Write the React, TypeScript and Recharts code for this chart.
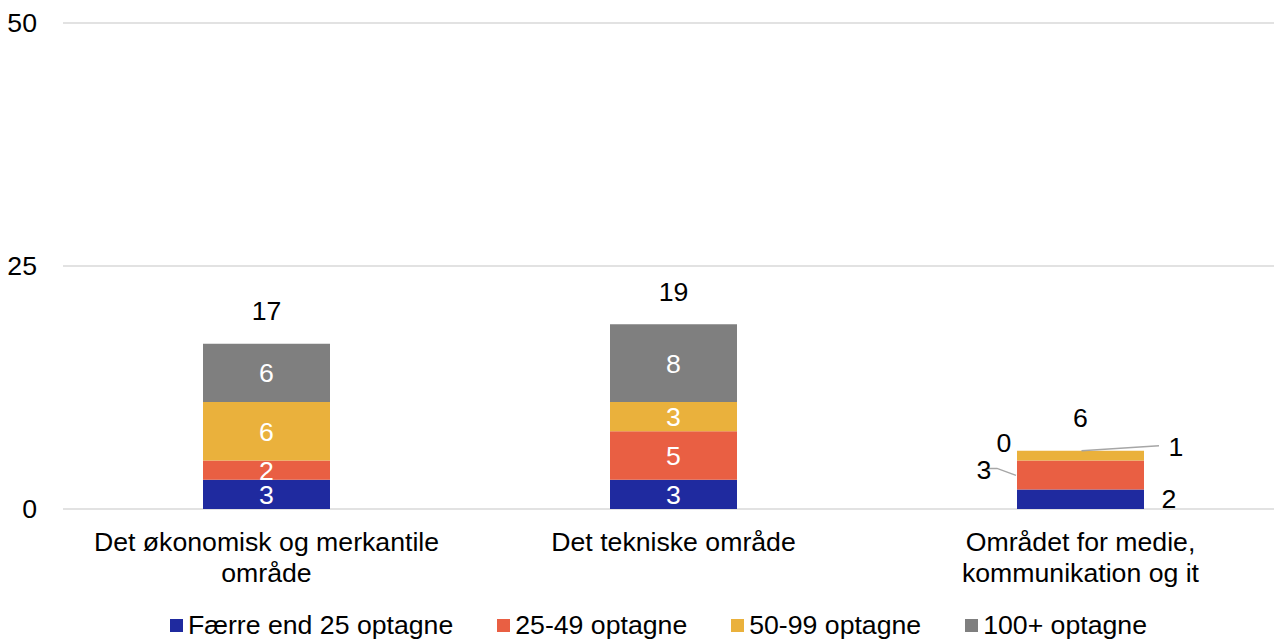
import React from 'react';
import { BarChart, Bar, XAxis, YAxis, CartesianGrid, Legend, LabelList } from 'recharts';

const categories = [
  'Det økonomisk og merkantile område',
  'Det tekniske område',
  'Området for medie, kommunikation og it',
];
const categoryLines = [
  ['Det økonomisk og merkantile', 'område'],
  ['Det tekniske område'],
  ['Området for medie,', 'kommunikation og it'],
];
const faerre25 = [3, 3, 2];
const opt25to49 = [2, 5, 3];
const opt50to99 = [6, 3, 1];
const opt100 = [6, 8, 0];
const yTicks = [0, 25, 50];

const seriesDefs = [
  { key: 'a', name: 'Færre end 25 optagne', color: '#1f2a9f', values: faerre25 },
  { key: 'b', name: '25-49 optagne', color: '#e95f43', values: opt25to49 },
  { key: 'c', name: '50-99 optagne', color: '#eab13c', values: opt50to99 },
  { key: 'd', name: '100+ optagne', color: '#7f7f7f', values: opt100 },
];

const data = categories.map((c, i) => ({
  name: c,
  a: faerre25[i],
  b: opt25to49[i],
  c: opt50to99[i],
  d: opt100[i],
}));

const FONT = '"Liberation Sans", Arial, sans-serif';
const FS = 26.67;

const XTick = (props: any) => {
  const { x, y, payload } = props;
  const lines = categoryLines[payload.index] || [payload.value];
  return (
    <text x={x} y={y} textAnchor="middle" fontSize={FS} fill="#000" fontFamily={FONT}>
      {lines.map((l, i) => (
        <tspan key={i} x={x} dy={i === 0 ? 34 : 31}>{l}</tspan>
      ))}
    </text>
  );
};

// index of the topmost non-zero segment for each category
const topSeries = (i: number) => {
  let top = 0;
  seriesDefs.forEach((s, si) => { if (s.values[i] > 0) top = si; });
  return top;
};

const Txt = ({ x, y, fill = '#000', children }: any) => (
  <text x={x} y={y} dy={9.5} textAnchor="middle" fontSize={FS} fill={fill} fontFamily={FONT}>
    {children}
  </text>
);

// labels for the small stacked bar, placed outside with leaders
const makeSegLabel = (seriesIdx: number) => (props: any) => {
  const { x, y, width, height, value, index } = props;
  const cx = x + width / 2;
  const cy = y + height / 2;
  const total = faerre25[index] + opt25to49[index] + opt50to99[index] + opt100[index];
  const totalLabel = topSeries(index) === seriesIdx
    ? <Txt x={cx} y={y - 33}>{total}</Txt>
    : null;
  if (index !== 2) {
    return (
      <g>
        <Txt x={cx} y={cy} fill="#fff">{value}</Txt>
        {totalLabel}
      </g>
    );
  }
  const right = x + width;
  if (seriesIdx === 0) {
    return <Txt x={right + 25} y={cy - 1}>{value}</Txt>;
  }
  if (seriesIdx === 1) {
    return (
      <g>
        <polyline points={`${x - 31},${y + 8} ${x - 20},${y + 8} ${x - 1},${y + 15}`} fill="none" stroke="#a6a6a6" strokeWidth={1.5} />
        <Txt x={x - 33} y={y + 9}>{value}</Txt>
      </g>
    );
  }
  if (seriesIdx === 2) {
    // the 100+ segment is zero here, so its label is drawn alongside
    return (
      <g>
        <line x1={cx + 1} y1={y} x2={right + 15} y2={y - 5} stroke="#a6a6a6" strokeWidth={1.5} />
        <Txt x={right + 32} y={y - 4}>{value}</Txt>
        <Txt x={x - 13} y={y - 8}>{opt100[index]}</Txt>
        {totalLabel}
      </g>
    );
  }
  return null;
};

const LegendContent = () => (
  <div style={{ display: 'flex', paddingLeft: 170, fontFamily: FONT, fontSize: FS, color: '#000', lineHeight: '31px' }}>
    {seriesDefs.map((s) => (
      <div key={s.key} style={{ display: 'flex', alignItems: 'center', marginRight: 44 }}>
        <span style={{ width: 13, height: 13, background: s.color, display: 'inline-block', marginRight: 5 }} />
        <span>{s.name}</span>
      </div>
    ))}
  </div>
);

export default function App() {
  return (
    <div style={{ position: 'absolute', left: 0, top: 0, width: 1274, height: 640, overflow: 'hidden', background: '#fff' }}>
      <BarChart
        width={1284}
        height={640}
        data={data}
        margin={{ top: 23, right: 0, bottom: 0, left: 0 }}
        barSize={127}
      >
        <CartesianGrid vertical={false} stroke="#d9d9d9" strokeWidth={1.5} />
        <XAxis
          dataKey="name"
          axisLine={false}
          tickLine={false}
          tick={<XTick />}
          height={101}
          interval={0}
        />
        <YAxis
          domain={[0, 50]}
          ticks={yTicks}
          axisLine={false}
          tickLine={false}
          width={63}
          tickMargin={20}
          tick={{ fontSize: FS, fill: '#000', fontFamily: FONT }}
        />
        <Legend verticalAlign="bottom" height={30} content={<LegendContent />} />
        {seriesDefs.map((s, si) => (
          <Bar key={s.key} dataKey={s.key} name={s.name} stackId="x" fill={s.color} isAnimationActive={false}>
            <LabelList dataKey={s.key} content={makeSegLabel(si)} />
          </Bar>
        ))}
      </BarChart>
    </div>
  );
}
